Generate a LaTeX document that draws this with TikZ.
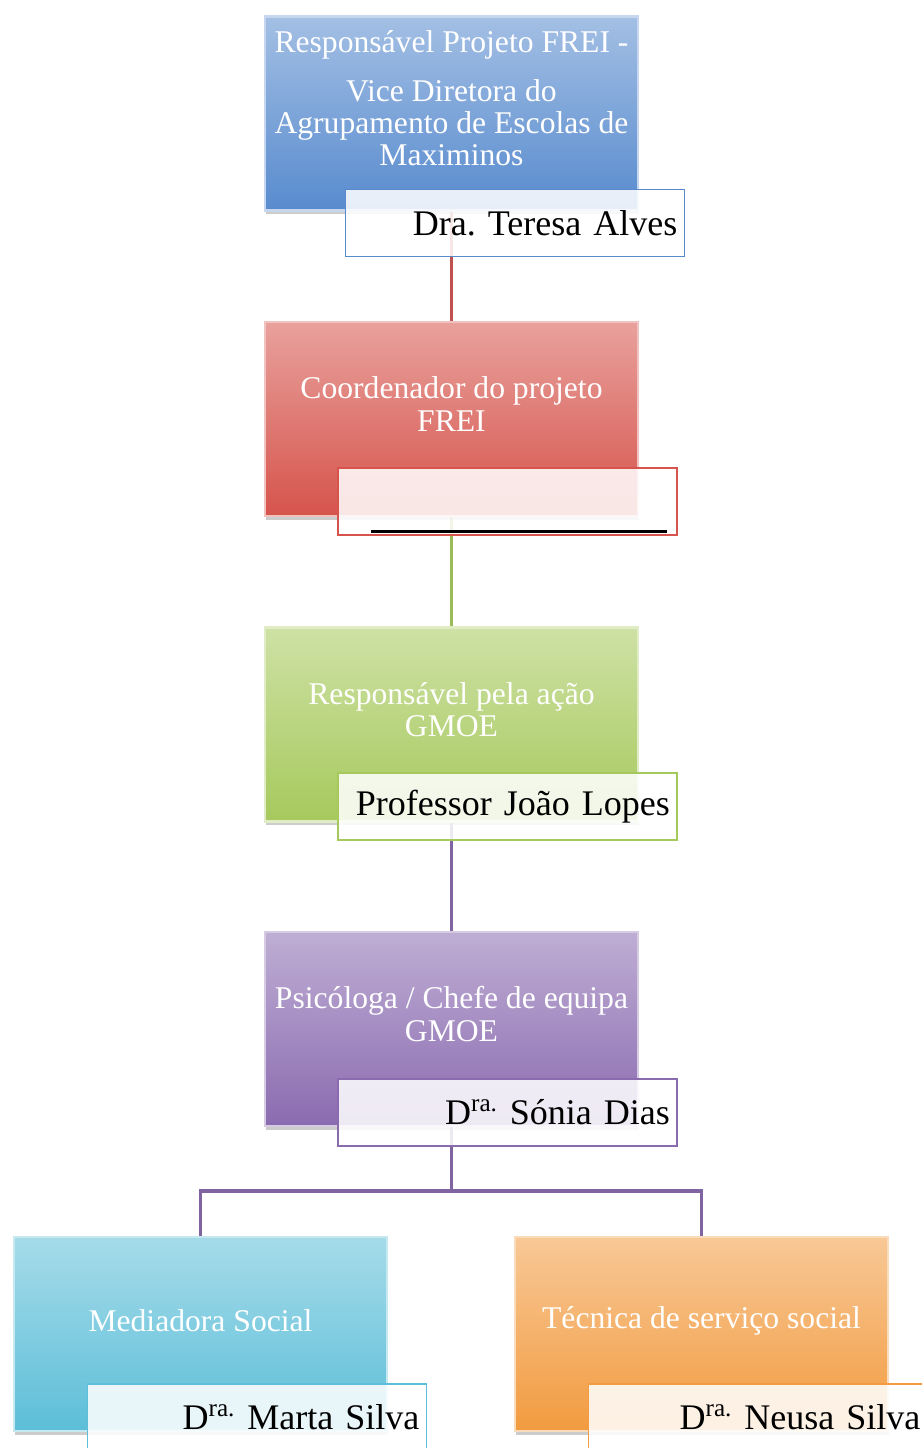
\documentclass[tikz,border=0pt]{standalone}
\usepackage{fontspec}
\setmainfont{Liberation Serif}
\usetikzlibrary{positioning, shadows, backgrounds}
\definecolor{bxblue}{RGB}{88,139,206}
\definecolor{bxred}{RGB}{214,84,76}
\definecolor{bxgreen}{RGB}{166,201,92}
\definecolor{bxpurple}{RGB}{138,107,176}
\definecolor{bxcyan}{RGB}{92,190,216}
\definecolor{bxorange}{RGB}{242,155,64}
\definecolor{lnred}{RGB}{192,80,77}
\definecolor{lngreen}{RGB}{155,187,89}
\definecolor{lnpurple}{RGB}{128,100,162}
\frenchspacing

\begin{document}
\begin{tikzpicture}[x=0.02cm, y=-0.02cm,
  bx/.style={minimum width=7.46cm, minimum height=3.88cm, top color=#1!55!white, bottom color=#1, draw=#1!35!white, line width=1.2pt, drop shadow={shadow xshift=0.2mm, shadow yshift=-0.8mm, opacity=0.4}},
  ttl/.style={text=white, align=center, font=\fontsize{18}{18.4}\selectfont},
  lb/.style={draw=#1, line width=0.8pt, fill=white, fill opacity=0.86, text opacity=1, minimum height=1.34cm, text width=6.5cm, inner xsep=0.14cm, align=right, font=\fontsize{20.5}{24}\selectfont},
  ln/.style={line width=2.2pt, draw=#1},
]
  \useasboundingbox (0,0) rectangle (921,1448);

  % boxes
  \node[bx=bxblue] (b1) at (451.5,113.5) {};
  \node[bx=bxred] (b2) at (451.5,419) {};
  \node[bx=bxgreen] (b3) at (451.5,724.5) {};
  \node[bx=bxpurple] (b4) at (451.5,1029) {};
  \node[bx=bxcyan] (b5) at (200.5,1334) {};
  \node[bx=bxorange] (b6) at (701.5,1334) {};

  % titles
  \node[ttl] (t1) at ([yshift=0.3cm]b1.center) {Responsável Projeto FREI -\\[9pt] Vice Diretora do\\ Agrupamento de Escolas de\\ Maximinos};
  \node[ttl] (t2) at ([yshift=0.3cm]b2.center) {Coordenador do projeto\\ FREI};
  \node[ttl] (t3) at ([yshift=0.3cm]b3.center) {Responsável pela ação\\ GMOE};
  \node[ttl] (t4) at ([yshift=0.3cm]b4.center) {Psicóloga / Chefe de equipa\\ GMOE};
  \node[ttl] (t5) at ([yshift=0.26cm]b5.center) {Mediadora Social};
  \node[ttl] (t6) at ([yshift=0.26cm]b6.center) {Técnica de serviço social};

  % names
  \node[lb=bxblue] (l1) at (515,223) {Dra. Teresa Alves};
  \node[lb=bxred] (l2) at (507.5,501.5) {};
  \node[lb=bxgreen] (l3) at (507.5,806.5) {Professor João Lopes};
  \node[lb=bxpurple] (l4) at (507.5,1112.5) {D\textsuperscript{ra.} Sónia Dias};
  \node[lb=bxcyan] (l5) at (257,1417.5) {D\textsuperscript{ra.} Marta Silva};
  \node[lb=bxorange] (l6) at (758,1417.5) {D\textsuperscript{ra.} Neusa Silva};
  \draw[line width=1.6pt] ([shift={(34,-4)}]l2.south west) -- ([shift={(-11,-4)}]l2.south east);

  \begin{scope}[on background layer]
    \draw[ln=lnred] (b1.south) -- (b2.north);
    \draw[ln=lngreen] (b2.south) -- (b3.north);
    \draw[ln=lnpurple] (b3.south) -- (b4.north);
    \draw[ln=lnpurple] (b4.south) -- ++(0,64) -| (b5.north);
    \draw[ln=lnpurple] (b4.south) -- ++(0,64) -| (b6.north);
  \end{scope}
\end{tikzpicture}
\end{document}
